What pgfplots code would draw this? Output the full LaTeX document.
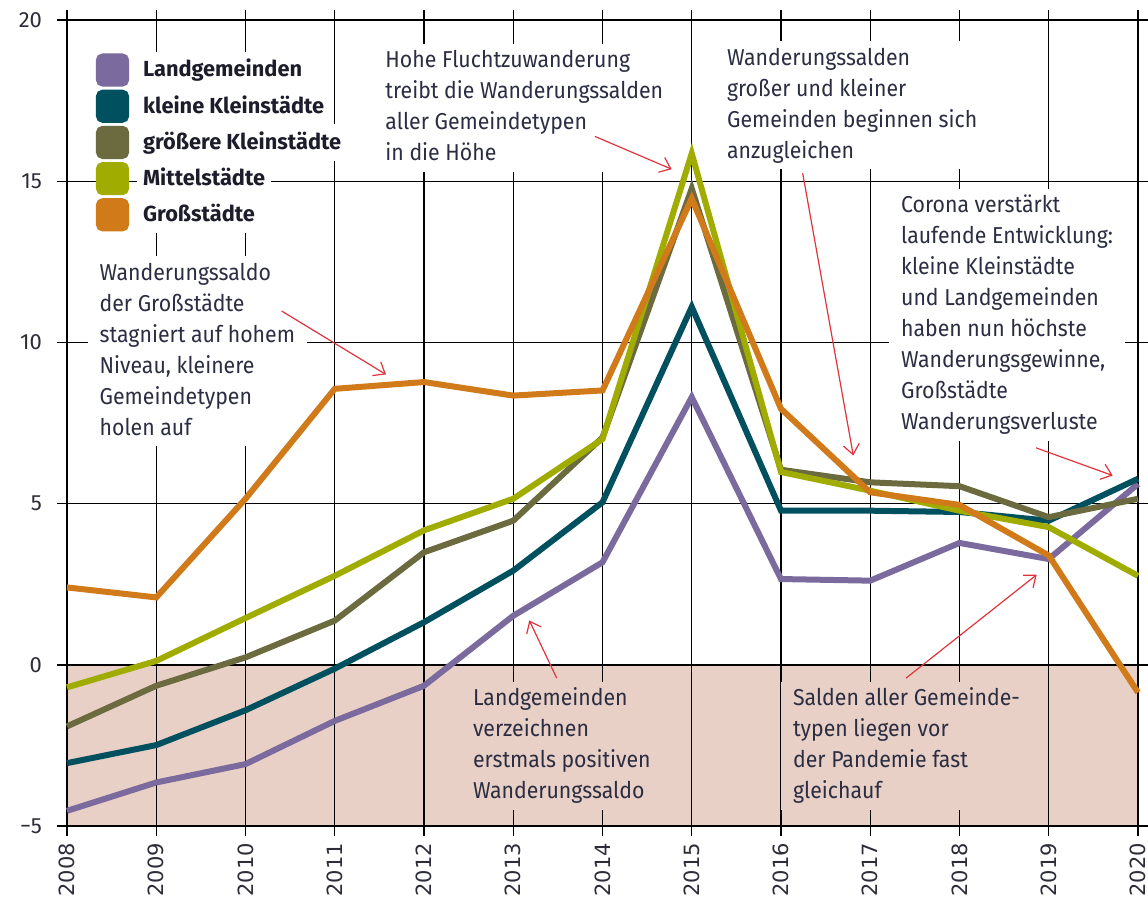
\documentclass[border=0pt]{standalone}
\usepackage{fontspec}
\setmainfont{Fira Sans}
\newfontfamily\annotfont{Fira Sans}[FakeStretch=0.925]
\newfontfamily\dejavu{DejaVu Sans}
\usepackage{pgfplots}
\pgfplotsset{compat=1.18}
\usetikzlibrary{arrows.meta}
\definecolor{cLand}{HTML}{7B6A9E}
\definecolor{cKK}{HTML}{00505F}
\definecolor{cGK}{HTML}{6B6B3F}
\definecolor{cMit}{HTML}{A0AD00}
\definecolor{cGross}{HTML}{D07A1A}
\definecolor{cPink}{HTML}{E8D0C6}
\definecolor{cArrow}{HTML}{E0343C}
\definecolor{cText}{HTML}{2B2D42}
\definecolor{cLeg}{HTML}{1C1C2A}
\definecolor{cTick}{HTML}{2D2D3A}
\tikzset{
  annot/.style={fill=white, inner xsep=6pt, inner ysep=1pt, text=cText, anchor=base west, font=\annotfont\fontsize{11.5}{15.5}\selectfont},
  annotp/.style={annot, fill=cPink},
  arr/.style={cArrow, line width=0.6pt, -{Straight Barb[length=5pt,width=8pt]}}
}
\begin{document}
\begin{tikzpicture}
\begin{axis}[
  set layers,
  at={(0,0)}, anchor=south west,
  scale only axis, width=535.5pt, height=403pt,
  xmin=2008, xmax=2020, ymin=-5, ymax=20,
  clip=false,
  axis line style={draw=none},
  xtick={2008,2009,2010,2011,2012,2013,2014,2015,2016,2017,2018,2019,2020},
  xticklabels={2008,2009,2010,2011,2012,2013,2014,2015,2016,2017,2018,2019,2020},
  ytick={-5,0,5,10,15,20},
  yticklabels={−5,0,5,10,15,20},
  grid=major,
  major grid style={black, line width=0.7pt},
  tick style={black, line width=0.7pt},
  tick align=outside, major tick length=5pt,
  xtick pos=both, ytick pos=both,
  xticklabel pos=lower, yticklabel pos=left,
  xticklabel style={font=\dejavu\fontsize{10.5}{12}\selectfont, rotate=90, anchor=east, text=cTick},
  yticklabel style={font=\fontsize{11}{13}\selectfont, text=cTick, xshift=-4pt},
  legend cell align=left,
  legend style={at={(axis description cs:0.027,0.9604)}, anchor=north west,
    draw=none, fill=none, inner sep=0pt, outer sep=0pt, row sep=0pt, column sep=4pt,
    font=\bfseries\fontsize{10.9}{12}\selectfont, text=cLeg,
    nodes={fill=white, inner xsep=3pt, inner ysep=0pt, text height=12.5pt, text depth=5.6pt}},
  legend image code/.code={\fill[rounded corners=2pt] (0pt,-6.8pt) rectangle (13.6pt,6.8pt);},
  every axis plot/.append style={line width=3pt},
]
\addplot[fill=cPink, draw=none, line width=0pt, on layer=axis background, forget plot]
  coordinates {(2008,-5) (2020,-5) (2020,0) (2008,0)} \closedcycle;

\addplot[cLand] coordinates {(2008,-4.53) (2009,-3.65) (2010,-3.08) (2011,-1.74) (2012,-0.65) (2013,1.52) (2014,3.18) (2015,8.30) (2016,2.66) (2017,2.61) (2018,3.78) (2019,3.28) (2020,5.61)};
\addlegendentry{Landgemeinden}
\addplot[cKK] coordinates {(2008,-3.05) (2009,-2.49) (2010,-1.41) (2011,-0.12) (2012,1.32) (2013,2.92) (2014,5.04) (2015,11.10) (2016,4.78) (2017,4.78) (2018,4.74) (2019,4.47) (2020,5.77)};
\addlegendentry{kleine Kleinstädte}
\addplot[cGK] coordinates {(2008,-1.91) (2009,-0.65) (2010,0.23) (2011,1.37) (2012,3.49) (2013,4.47) (2014,7.05) (2015,14.77) (2016,6.05) (2017,5.66) (2018,5.54) (2019,4.58) (2020,5.15)};
\addlegendentry{größere Kleinstädte}
\addplot[cMit] coordinates {(2008,-0.70) (2009,0.12) (2010,1.45) (2011,2.76) (2012,4.17) (2013,5.15) (2014,7.00) (2015,15.86) (2016,5.98) (2017,5.40) (2018,4.78) (2019,4.27) (2020,2.76)};
\addlegendentry{Mittelstädte}
\addplot[cGross] coordinates {(2008,2.40) (2009,2.09) (2010,5.15) (2011,8.56) (2012,8.77) (2013,8.35) (2014,8.51) (2015,14.46) (2016,7.94) (2017,5.35) (2018,4.96) (2019,3.39) (2020,-0.86)};
\addlegendentry{Großstädte}

\begin{pgfonlayer}{pre main}
\node[annot] at (axis cs:2011.429,18.531) {\begin{tabular}[t]{@{}l@{}}Hohe Fluchtzuwanderung\\treibt die Wanderungssalden\\aller Gemeindetypen\\in die Höhe\end{tabular}};
\node[annot] at (axis cs:2015.257,18.602) {\begin{tabular}[t]{@{}l@{}}Wanderungssalden\\großer und kleiner\\Gemeinden beginnen sich\\anzugleichen\end{tabular}};
\node[annot] at (axis cs:2017.207,14.028) {\begin{tabular}[t]{@{}l@{}}Corona verstärkt\\laufende Entwicklung:\\kleine Kleinstädte\\und Landgemeinden\\haben nun höchste\\Wanderungsgewinne,\\Großstädte\\Wanderungsverluste\end{tabular}};
\node[annot] at (axis cs:2008.227,11.935) {\begin{tabular}[t]{@{}l@{}}Wanderungssaldo\\der Großstädte\\stagniert auf hohem\\Niveau, kleinere\\Gemeindetypen\\holen auf\end{tabular}};
\node[annotp] at (axis cs:2012.411,-1.273) {\begin{tabular}[t]{@{}l@{}}Landgemeinden\\verzeichnen\\erstmals positiven\\Wanderungssaldo\end{tabular}};
\node[annotp] at (axis cs:2015.997,-1.273) {\begin{tabular}[t]{@{}l@{}}Salden aller Gemeinde-\\typen liegen vor\\der Pandemie fast\\gleichauf\end{tabular}};
\end{pgfonlayer}

\draw[arr] (axis cs:2013.916,16.388) -- (axis cs:2014.775,15.373);
\draw[arr] (axis cs:2016.243,15.248) -- (axis cs:2016.810,6.491);
\draw[arr] (axis cs:2018.857,6.730) -- (axis cs:2019.717,5.870);
\draw[arr] (axis cs:2010.406,10.972) -- (axis cs:2011.574,9.006);
\draw[arr] (axis cs:2013.487,-0.413) -- (axis cs:2013.180,1.376);
\draw[arr] (axis cs:2017.401,-0.413) -- (axis cs:2018.865,2.795);
\end{axis}
\pgfresetboundingbox
\path (-33.5pt,-38pt) rectangle (540.5pt,413pt);
\end{tikzpicture}
\end{document}
